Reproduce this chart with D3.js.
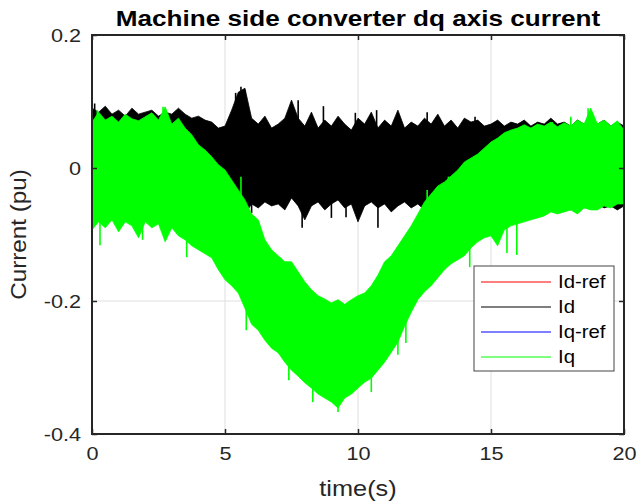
<!DOCTYPE html>
<html>
<head>
<meta charset="utf-8">
<script src="https://cdn.jsdelivr.net/npm/d3@7"></script>
<style>
  body { margin: 0; background: #fff; }
  svg { font-family: "Liberation Sans", Arial, sans-serif; }
</style>
</head>
<body>
<div id="chart"></div>
<script>
// sample times of the envelopes (s), every 0.25 s
const times = d3.range(81).map(i => i / 4);

// Iq (green) upper / lower envelope, pu
const iqHigh = [0.069,0.084,0.072,0.078,0.069,0.081,0.074,0.071,0.077,0.083,0.072,0.092,0.066,0.075,0.060,0.050,
  0.035,0.027,0.017,0.005,-0.003,-0.018,-0.033,-0.048,-0.069,-0.078,-0.108,-0.123,-0.132,-0.141,-0.141,-0.156,
  -0.171,-0.183,-0.192,-0.197,-0.203,-0.198,-0.205,-0.198,-0.192,-0.188,-0.177,-0.161,-0.141,-0.132,-0.117,-0.102,
  -0.087,-0.069,-0.051,-0.039,-0.027,-0.021,-0.012,-0.003,0.009,0.015,0.021,0.030,0.039,0.045,0.053,0.057,
  0.060,0.065,0.060,0.066,0.063,0.069,0.062,0.068,0.063,0.072,0.066,0.090,0.066,0.072,0.063,0.071,0.057];
const iqLow = [-0.093,-0.081,-0.090,-0.078,-0.096,-0.081,-0.087,-0.105,-0.081,-0.090,-0.084,-0.111,-0.090,-0.102,-0.108,-0.117,
  -0.123,-0.129,-0.135,-0.153,-0.168,-0.177,-0.188,-0.211,-0.235,-0.244,-0.259,-0.271,-0.278,-0.292,-0.304,-0.313,
  -0.323,-0.331,-0.340,-0.346,-0.352,-0.361,-0.346,-0.340,-0.331,-0.322,-0.316,-0.304,-0.292,-0.277,-0.262,-0.238,
  -0.217,-0.198,-0.186,-0.177,-0.165,-0.153,-0.144,-0.138,-0.132,-0.120,-0.111,-0.105,-0.102,-0.117,-0.093,-0.087,
  -0.084,-0.081,-0.078,-0.075,-0.072,-0.066,-0.069,-0.066,-0.063,-0.069,-0.060,-0.063,-0.063,-0.057,-0.060,-0.054,-0.054];

// Id (black) upper / lower envelope, pu
const idHigh = [0.090,0.084,0.093,0.081,0.087,0.078,0.090,0.081,0.084,0.087,0.078,0.084,0.081,0.090,0.081,0.075,
  0.078,0.072,0.069,0.060,0.063,0.087,0.114,0.120,0.075,0.066,0.078,0.060,0.066,0.075,0.102,0.075,
  0.063,0.084,0.060,0.072,0.063,0.078,0.066,0.057,0.075,0.066,0.084,0.060,0.072,0.063,0.087,0.060,
  0.069,0.063,0.075,0.066,0.081,0.063,0.072,0.060,0.075,0.069,0.072,0.063,0.066,0.072,0.063,0.069,
  0.066,0.072,0.063,0.069,0.066,0.075,0.066,0.069,0.063,0.072,0.066,0.069,0.066,0.072,0.063,0.069,0.063];
const idLow = [-0.063,-0.069,-0.060,-0.066,-0.063,-0.069,-0.063,-0.075,-0.063,-0.066,-0.060,-0.069,-0.066,-0.063,-0.069,-0.066,
  -0.063,-0.075,-0.069,-0.063,-0.066,-0.054,-0.060,-0.069,-0.054,-0.060,-0.051,-0.057,-0.054,-0.063,-0.045,-0.057,
  -0.078,-0.057,-0.051,-0.063,-0.054,-0.048,-0.060,-0.054,-0.081,-0.057,-0.051,-0.060,-0.054,-0.066,-0.057,-0.051,
  -0.060,-0.054,-0.063,-0.057,-0.051,-0.060,-0.054,-0.063,-0.057,-0.054,-0.060,-0.054,-0.057,-0.063,-0.054,-0.060,
  -0.057,-0.063,-0.054,-0.060,-0.057,-0.054,-0.060,-0.057,-0.063,-0.054,-0.060,-0.057,-0.054,-0.060,-0.057,-0.063,-0.057];

// single spikes that stick out of the bands: [time, value]
const idSpikes = [[0.1,0.097],[5.4,0.113],[5.6,0.122],[5.75,0.117],[7.75,0.102],[8.7,0.093],[9.9,0.083],
  [10.7,0.087],[12.6,0.084],[14.4,0.077],[6.0,-0.068],[7.9,-0.09],[9.0,-0.075],[9.55,-0.074],[10.75,-0.09]];
const iqSpikes = [[0.2,0.087],[2.67,0.092],[18.0,0.077],[18.65,0.09],[17.3,0.069],[5.6,-0.013],[12.6,-0.033],[13.4,-0.013],
  [0.3,-0.116],[1.9,-0.108],[3.56,-0.134],[5.8,-0.244],[7.4,-0.319],[8.3,-0.352],[9.25,-0.367],[10.5,-0.337],
  [10.8,-0.301],[11.5,-0.281],[11.8,-0.263],[14.2,-0.149],[15.6,-0.128],[15.97,-0.131]];

// reference signals
const refTimes = d3.range(21);
const idRef = refTimes.map(() => 0);
const iqRef = [0,0,0,-0.01,-0.04,-0.08,-0.14,-0.2,-0.25,-0.28,-0.27,-0.23,-0.16,-0.1,-0.06,-0.03,-0.01,0,0,0,0];

const xTicks = [0, 5, 10, 15, 20];
const yTicks = [-0.4, -0.2, 0, 0.2];
const yTickLabels = ["-0.4", "-0.2", "0", "0.2"];
const legendNames = ["Id-ref", "Id", "Iq-ref", "Iq"];
const legendColors = ["#ff0000", "#000000", "#0000ff", "#00ff00"];

const width = 637, height = 502;
const margin = { top: 35, right: 13, bottom: 68, left: 92 };
const axisColor = "#262626";

const svg = d3.select("#chart").append("svg")
    .attr("width", width)
    .attr("height", height);

const x = d3.scaleLinear().domain([0, 20]).range([margin.left, width - margin.right]);
const y = d3.scaleLinear().domain([-0.4, 0.2]).range([height - margin.bottom, margin.top]);

// the reference font is a bit wider than Liberation Sans
function stretch(sel, k) {
    sel.each(function () {
        const w = this.getComputedTextLength();
        d3.select(this).attr("textLength", w * k).attr("lengthAdjust", "spacingAndGlyphs");
    });
}

// grid
svg.append("g")
    .selectAll("line")
    .data(xTicks.slice(1, -1))
    .join("line")
    .attr("x1", d => x(d)).attr("x2", d => x(d))
    .attr("y1", y(-0.4)).attr("y2", y(0.2))
    .attr("stroke", "#dfdfdf");
svg.append("g")
    .selectAll("line")
    .data(yTicks.slice(1, -1))
    .join("line")
    .attr("y1", d => y(d)).attr("y2", d => y(d))
    .attr("x1", x(0)).attr("x2", x(20))
    .attr("stroke", "#dfdfdf");

const plot = svg.append("g");

// references go underneath the measured currents
const refLine = d3.line().x((d, i) => x(refTimes[i])).y(d => y(d));
plot.append("path").attr("d", refLine(idRef)).attr("fill", "none").attr("stroke", "#ff0000");
plot.append("path").attr("d", refLine(iqRef)).attr("fill", "none").attr("stroke", "#0000ff");

const band = (hi, lo) => d3.area()
    .x((d, i) => x(times[i]))
    .y0((d, i) => y(lo[i]))
    .y1((d, i) => y(hi[i]))(times);

// spike drawn from the middle of its band out to its value
function drawSpikes(spikes, hi, lo, color) {
    plot.append("g")
        .selectAll("line")
        .data(spikes)
        .join("line")
        .attr("x1", d => x(d[0])).attr("x2", d => x(d[0]))
        .attr("y1", d => {
            const i = Math.round(d[0] * 4);
            return y((hi[i] + lo[i]) / 2);
        })
        .attr("y2", d => y(d[1]))
        .attr("stroke", color).attr("stroke-width", 1.6);
}

plot.append("path").attr("d", band(idHigh, idLow)).attr("fill", "#000").attr("stroke", "#000").attr("stroke-width", 0.8);
drawSpikes(idSpikes, idHigh, idLow, "#000");
plot.append("path").attr("d", band(iqHigh, iqLow)).attr("fill", "#00ff00").attr("stroke", "#00ff00").attr("stroke-width", 0.8);
drawSpikes(iqSpikes, iqHigh, iqLow, "#00ff00");

// axes: ticks inward on all four sides
const tickLen = 5;
const axisB = d3.axisBottom(x).tickValues(xTicks).tickSize(-tickLen).tickPadding(13).tickFormat(d => String(d));
const axisT = d3.axisTop(x).tickValues(xTicks).tickSize(-tickLen).tickFormat("");
const axisL = d3.axisLeft(y).tickValues(yTicks).tickSize(-tickLen).tickPadding(11)
    .tickFormat((d, i) => yTickLabels[i]);
const axisR = d3.axisRight(y).tickValues(yTicks).tickSize(-tickLen).tickFormat("");

function styleAxis(g) {
    g.select(".domain").remove();
    g.selectAll(".tick line").attr("stroke", axisColor).attr("stroke-width", 1.5);
    g.selectAll("text").attr("fill", axisColor).style("font-size", "19px").call(stretch, 1.14);
}

svg.append("g").attr("transform", `translate(0,${y(-0.4)})`).call(axisB).call(styleAxis);
svg.append("g").attr("transform", `translate(0,${y(0.2)})`).call(axisT).call(styleAxis);
svg.append("g").attr("transform", `translate(${x(0)},0)`).call(axisL).call(styleAxis);
svg.append("g").attr("transform", `translate(${x(20)},0)`).call(axisR).call(styleAxis);

svg.append("rect")
    .attr("x", x(0)).attr("y", y(0.2))
    .attr("width", x(20) - x(0)).attr("height", y(-0.4) - y(0.2))
    .attr("fill", "none").attr("stroke", axisColor).attr("stroke-width", 2);

// titles
svg.append("text")
    .attr("x", (x(0) + x(20)) / 2).attr("y", 26)
    .attr("text-anchor", "middle")
    .style("font-size", "22.5px").style("font-weight", "bold")
    .text("Machine side converter dq axis current")
    .call(stretch, 1.16);

svg.append("text")
    .attr("x", (x(0) + x(20)) / 2).attr("y", 496)
    .attr("text-anchor", "middle").attr("fill", axisColor)
    .style("font-size", "22px")
    .text("time(s)")
    .call(stretch, 1.15);

svg.append("text")
    .attr("transform", `translate(26,${(y(0.2) + y(-0.4)) / 2}) rotate(-90)`)
    .attr("text-anchor", "middle").attr("fill", axisColor)
    .style("font-size", "22px")
    .text("Current (pu)")
    .call(stretch, 1.1);

// legend
const lg = svg.append("g").attr("transform", "translate(474,266)");
lg.append("rect").attr("width", 140).attr("height", 105)
    .attr("fill", "#fff").attr("stroke", "#444").attr("stroke-width", 1);
const rows = lg.selectAll("g")
    .data(legendNames)
    .join("g")
    .attr("transform", (d, i) => `translate(0,${16 + i * 25})`);
rows.append("line")
    .attr("x1", 7).attr("x2", 77)
    .attr("stroke", (d, i) => legendColors[i]).attr("stroke-width", 1.2);
rows.append("text")
    .attr("x", 84).attr("dy", "0.35em")
    .attr("fill", "#000")
    .style("font-size", "18.5px")
    .text(d => d)
    .call(stretch, 1.1);
</script>
</body>
</html>
